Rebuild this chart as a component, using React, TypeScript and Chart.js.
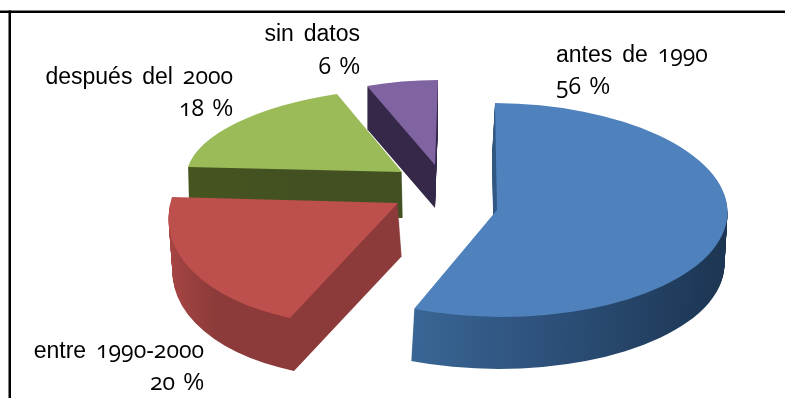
import React, { useEffect, useRef } from "react";
import { Chart, registerables } from "chart.js";

Chart.register(...registerables);

const categories = ["antes de 1990", "entre 1990-2000", "después del 2000", "sin datos"];
const shares = [56, 20, 18, 6];
const faceColors = ["#4f81bd", "#bd4f4c", "#9bbb59", "#8064a2"];
const wallStops = [
  ["#3a6797", "#2b4d75", "#1b3450"],
  ["#a84644", "#8c3b3a", "#8c3b3a"],
  ["#46541f", "#435122", "#435122"],
  ["#352849", "#352849", "#352849"],
];

type Pt = [number, number];
// Where each wedge lands on screen: its tip, the rim point at its start angle,
// the rim point at its end angle, and the thickness vector of the extruded wall.
const wedgeFrames: { tip: Pt; from: Pt; to: Pt; wall: Pt; span: [number, number] }[] = [
  { tip: [497, 210], from: [495, 103], to: [414, 309], wall: [-3, 52], span: [400, 735] },
  { tip: [398, 203], from: [290, 318], to: [172, 197], wall: [4, 53], span: [170, 300] },
  { tip: [402, 172], from: [188, 167], to: [337, 94], wall: [1, 46], span: [188, 402] },
  { tip: [435, 165], from: [367, 86], to: [438, 80], wall: [0, 43], span: [367, 438] },
];

const labelBoxes: { x: number; top: number; align: "left" | "right" }[] = [
  { x: 556, top: 37, align: "left" },
  { x: 204, top: 333, align: "right" },
  { x: 233, top: 59, align: "right" },
  { x: 360, top: 17, align: "right" },
];

const pieDrawOrder = [3, 2, 1, 0];

function wedgeMatrix(el: any, frame: (typeof wedgeFrames)[number]) {
  const c1 = Math.cos(el.startAngle);
  const s1 = Math.sin(el.startAngle);
  const c2 = Math.cos(el.endAngle);
  const s2 = Math.sin(el.endAngle);
  const det = c1 * s2 - c2 * s1;
  const v1 = [frame.from[0] - frame.tip[0], frame.from[1] - frame.tip[1]];
  const v2 = [frame.to[0] - frame.tip[0], frame.to[1] - frame.tip[1]];
  const r = el.outerRadius;
  const a = (v1[0] * s2 - v2[0] * s1) / det / r;
  const b = (v1[1] * s2 - v2[1] * s1) / det / r;
  const c = (-v1[0] * c2 + v2[0] * c1) / det / r;
  const d = (-v1[1] * c2 + v2[1] * c1) / det / r;
  const e = frame.tip[0] - a * el.x - c * el.y;
  const f = frame.tip[1] - b * el.x - d * el.y;
  return new DOMMatrix([a, b, c, d, e, f]);
}

const extrudedPie = {
  id: "extrudedPie",
  beforeDraw(chart: any) {
    const { ctx } = chart;
    ctx.save();
    ctx.fillStyle = "#000";
    ctx.fillRect(0, 10.5, 785, 2.5);
    ctx.fillRect(8.5, 10.5, 2.5, 388);
    ctx.restore();
  },
  beforeDatasetsDraw(chart: any) {
    const { ctx } = chart;
    const arcs = chart.getDatasetMeta(0).data;
    for (const i of pieDrawOrder) {
      const el = arcs[i];
      const frame = wedgeFrames[i];
      const m = wedgeMatrix(el, frame);
      const inv = m.inverse();
      const midY = frame.tip[1];
      const p0 = inv.transformPoint(new DOMPoint(frame.span[0], midY));
      const p1 = inv.transformPoint(new DOMPoint(frame.span[1], midY));
      const grad = ctx.createLinearGradient(p0.x, p0.y, p1.x, p1.y);
      wallStops[i].forEach((col, k) => grad.addColorStop(k / 2, col));
      const base = el.options;

      const steps = Math.ceil(Math.abs(frame.wall[1]));
      el.options = { ...base, backgroundColor: grad };
      for (let s = steps; s >= 1; s--) {
        ctx.save();
        ctx.translate((frame.wall[0] * s) / steps, (frame.wall[1] * s) / steps);
        ctx.transform(m.a, m.b, m.c, m.d, m.e, m.f);
        el.draw(ctx);
        ctx.restore();
      }

      el.options = base;
      ctx.save();
      ctx.transform(m.a, m.b, m.c, m.d, m.e, m.f);
      el.draw(ctx);
      ctx.restore();
    }
    return false;
  },
};

// Digits are set in old-style figures, the rest of the label in the sans face.
function OldStyle({ text }: { text: string }) {
  const parts = text.split(/(\d+)/);
  return (
    <>
      {parts.map((p, i) =>
        /\d/.test(p) ? (
          <span key={i} style={{ fontFamily: "'Open Sans'", fontFeatureSettings: '"onum"', fontSize: 23 }}>
            {p}
          </span>
        ) : (
          <span key={i}>{p}</span>
        ),
      )}
    </>
  );
}

export default function App() {
  const ref = useRef<HTMLCanvasElement>(null);
  useEffect(() => {
    const chart = new Chart(ref.current!, {
      type: "pie",
      data: {
        labels: categories,
        datasets: [{ data: shares, backgroundColor: faceColors, borderWidth: 0 }],
      },
      options: {
        animation: false,
        responsive: false,
        layout: { padding: 0 },
        plugins: { legend: { display: false }, tooltip: { enabled: false } },
      },
      plugins: [extrudedPie],
    });
    return () => chart.destroy();
  }, []);

  return (
    <div style={{ position: "absolute", left: 0, top: 0, width: 785, height: 398, overflow: "hidden", background: "#fff" }}>
      <canvas ref={ref} width={785} height={398} style={{ display: "block" }} />
      {categories.map((name, i) => {
        const box = labelBoxes[i];
        return (
          <div
            key={name}
            style={{
              position: "absolute",
              top: box.top,
              ...(box.align === "left" ? { left: box.x } : { right: 785 - box.x }),
              textAlign: box.align,
              whiteSpace: "nowrap",
              fontFamily: "'Liberation Sans'",
              fontSize: 23,
              lineHeight: "32px",
              wordSpacing: 2,
              color: "#000",
            }}
          >
            <div style={{ height: 32, wordSpacing: 3.5 }}>
              <OldStyle text={name} />
            </div>
            <div style={{ height: 32 }}>
              <OldStyle text={`${shares[i]} %`} />
            </div>
          </div>
        );
      })}
    </div>
  );
}
